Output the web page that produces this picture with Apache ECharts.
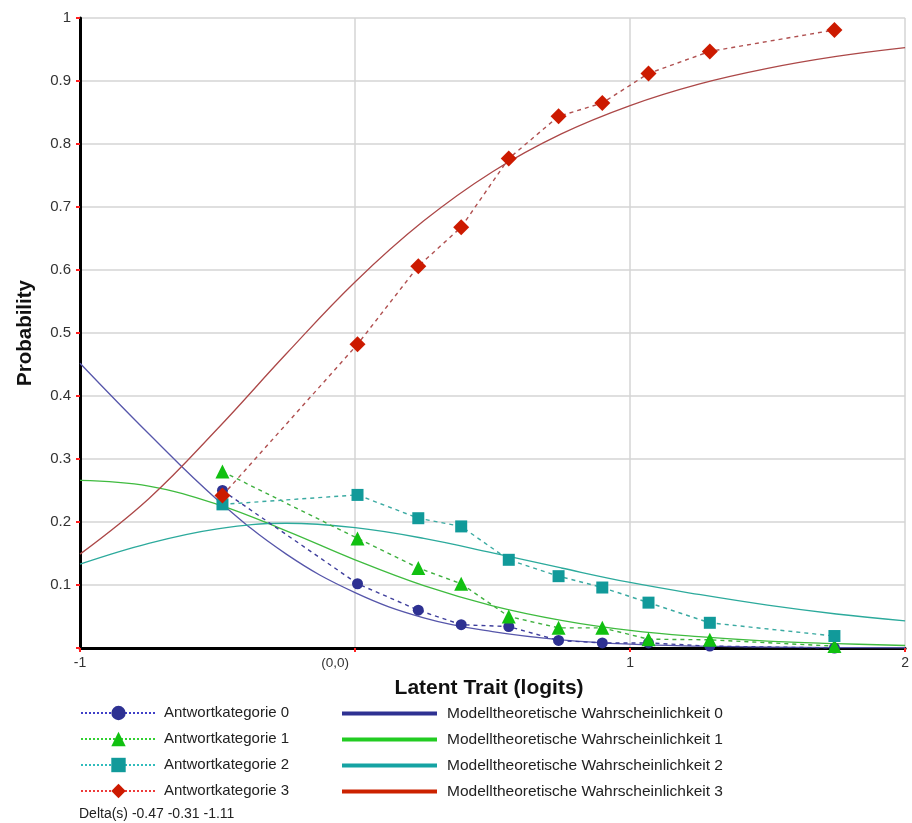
<!DOCTYPE html>
<html><head><meta charset="utf-8">
<script src="https://cdn.jsdelivr.net/npm/echarts@6/dist/echarts.min.js"></script>
<style>html,body{margin:0;padding:0;background:#fff}#c{width:912px;height:823px}</style>
</head><body><div id="c"></div>
<script>
// observed points (logits) and proportions
const obsX = [-0.482, 0.009, 0.230, 0.386, 0.559, 0.740, 0.899, 1.067, 1.290, 1.743];
const obs0 = [0.250, 0.102, 0.060, 0.037, 0.034, 0.012, 0.008, 0.008, 0.003, 0.000];
const obs1 = [0.280, 0.174, 0.127, 0.102, 0.050, 0.032, 0.032, 0.014, 0.013, 0.003];
const obs2 = [0.228, 0.243, 0.206, 0.193, 0.140, 0.114, 0.096, 0.072, 0.040, 0.019];
const obs3 = [0.242, 0.482, 0.606, 0.668, 0.777, 0.844, 0.865, 0.912, 0.947, 0.981];
// model curves read along x
const modelX = [-1, -0.75, -0.5, -0.25, 0, 0.25, 0.5, 0.75, 1, 1.25, 1.5, 1.75, 2];
const model0 = [0.452, 0.340, 0.235, 0.149, 0.088, 0.048, 0.026, 0.013, 0.006, 0.003, 0.0015, 0.0007, 0.0004];
const model1 = [0.266, 0.257, 0.228, 0.186, 0.140, 0.099, 0.067, 0.044, 0.028, 0.018, 0.011, 0.007, 0.004];
const model2 = [0.133, 0.166, 0.189, 0.198, 0.191, 0.174, 0.151, 0.127, 0.104, 0.085, 0.068, 0.054, 0.043];
const model3 = [0.149, 0.237, 0.348, 0.467, 0.581, 0.678, 0.756, 0.816, 0.861, 0.895, 0.920, 0.939, 0.953];
const obsNames = ['Antwortkategorie 0','Antwortkategorie 1','Antwortkategorie 2','Antwortkategorie 3'];
const modelNames = ['Modelltheoretische Wahrscheinlichkeit 0','Modelltheoretische Wahrscheinlichkeit 1','Modelltheoretische Wahrscheinlichkeit 2','Modelltheoretische Wahrscheinlichkeit 3'];
const deltaText = 'Delta(s) -0.47 -0.31 -1.11';

const FONT = "'Liberation Sans', Arial, sans-serif";
const zip = (xs, ys) => xs.map((x, i) => [x, ys[i]]);

const modelLine = ['#5656aa', '#3fbb3f', '#2caa9c', '#ac4848'];
const modelLegend = ['#2e3192', '#22cc22', '#15a3a3', '#cc2200'];
const obsLine = ['#3e3e9c', '#3fb03f', '#3aaaa2', '#b05050'];
const obsMarker = ['#2e3192', '#11c011', '#119a9a', '#cc1a00'];
const obsLegendLine = ['#4040c8', '#30d030', '#30bcbc', '#ee3a3a'];
const symbols = ['circle', 'triangle', 'rect', 'diamond'];
const symSizes = [11, 14, 12, 16];
const obsData = [obs0, obs1, obs2, obs3];
const modelData = [model0, model1, model2, model3];

const series = [];
for (let i = 0; i < 4; i++) {
  series.push({
    name: modelNames[i], type: 'line', data: zip(modelX, modelData[i]),
    smooth: 0.4, symbol: 'none', z: 2,
    lineStyle: { color: modelLine[i], width: 1.3 }, itemStyle: { color: modelLine[i] }
  });
}
for (let i = 0; i < 4; i++) {
  series.push({
    name: obsNames[i], type: 'line', data: zip(obsX, obsData[i]),
    symbol: symbols[i], symbolSize: symSizes[i], showAllSymbol: true, z: 3 + i,
    lineStyle: { color: obsLine[i], width: 1.4, type: [4, 4] },
    itemStyle: { color: obsMarker[i] }
  });
}

const chart = echarts.init(document.getElementById('c'), null, { renderer: 'canvas' });
chart.setOption({
  animation: false,
  backgroundColor: '#fff',
  textStyle: { fontFamily: FONT },
  grid: { left: 80, top: 18, right: 0, bottom: 175, containLabel: false },
  xAxis: {
    type: 'value', min: -1, max: 2, interval: 1,
    name: 'Latent Trait (logits)', nameLocation: 'middle', nameGap: 30,
    nameTextStyle: { fontSize: 21, fontWeight: 'bold', color: '#111', fontFamily: FONT, padding: [0, 7, 0, 0] },
    axisLine: { show: true, onZero: false, lineStyle: { color: '#000', width: 3 } },
    axisTick: { show: true, length: 4, lineStyle: { color: '#ff2020', width: 2 } },
    axisLabel: { margin: 8, fontSize: 14, color: '#333', fontFamily: FONT,
      formatter: v => (v === 0 ? '{z|(0,0)}' : String(v)),
      rich: { z: { fontSize: 13.5, color: '#333', fontFamily: FONT, padding: [0, 40, 0, 0] } } },
    splitLine: { show: true, lineStyle: { color: '#d4d4d4', width: 1.5 } }
  },
  yAxis: {
    type: 'value', min: 0, max: 1, interval: 0.1,
    name: 'Probability', nameLocation: 'middle', nameGap: 44,
    nameTextStyle: { fontSize: 20.5, fontWeight: 'bold', color: '#111', fontFamily: FONT },
    axisLine: { show: true, onZero: false, lineStyle: { color: '#000', width: 3 } },
    axisTick: { show: true, length: 4, lineStyle: { color: '#ff2020', width: 2 } },
    axisLabel: { margin: 9, fontSize: 15, color: '#333', fontFamily: FONT,
      formatter: v => (v === 0 ? '' : String(+v.toFixed(1))) },
    splitLine: { show: true, lineStyle: { color: '#d4d4d4', width: 1.5 } }
  },
  legend: [
    {
      orient: 'vertical', left: 80, top: 705.5, itemWidth: 75, itemHeight: 18, itemGap: 11,
      textStyle: { fontSize: 15, color: '#222', fontFamily: FONT, padding: [4, 0, 0, 3] },
      data: obsNames.map((n, i) => ({ name: n, lineStyle: { color: obsLegendLine[i], type: 'dotted', width: 2 } })),
      selectedMode: false, padding: 0
    },
    {
      orient: 'vertical', left: 340, top: 705.5, itemWidth: 95, itemHeight: 18, itemGap: 10,
      textStyle: { fontSize: 15.5, color: '#222', fontFamily: FONT, padding: [2, 0, 0, 5] },
      data: modelNames.map((n, i) => ({ name: n, itemStyle: { opacity: 0 }, lineStyle: { color: modelLegend[i], width: 4, type: 'solid', opacity: 1 } })),
      selectedMode: false, padding: 0
    }
  ],
  graphic: [
    { type: 'text', left: 79, top: 807, style: { text: deltaText, fontSize: 14, fill: '#222', fontFamily: FONT } }
  ],
  series: series
});
</script></body></html>
